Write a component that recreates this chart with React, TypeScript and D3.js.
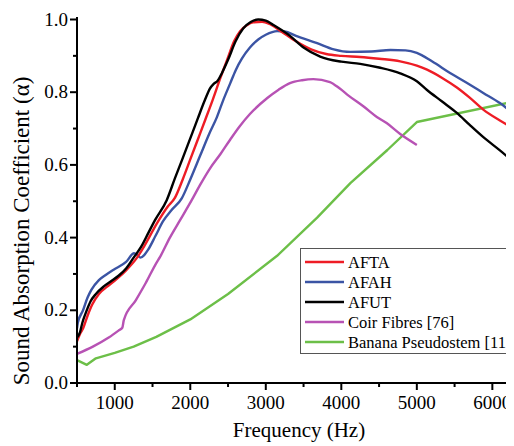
import React, { useEffect, useState } from "react";
import * as d3 from "d3";

type P = [number, number];

const xTicksMajor = [1000, 2000, 3000, 4000, 5000, 6000];
const xTicksMinor = [500, 1500, 2500, 3500, 4500, 5500];
const yTicksMajor = [0, 0.2, 0.4, 0.6, 0.8, 1.0];
const yTicksMinor = [0.1, 0.3, 0.5, 0.7, 0.9];

const afta: P[] = [
  [500, 0.115], [540, 0.135], [580, 0.15], [640, 0.185], [700, 0.215], [790, 0.245],
  [900, 0.265], [1020, 0.285], [1150, 0.31], [1295, 0.345], [1400, 0.38], [1560, 0.44],
  [1700, 0.485], [1798, 0.51], [1900, 0.56], [2000, 0.615], [2100, 0.67], [2200, 0.725],
  [2297, 0.779], [2400, 0.84], [2490, 0.89], [2580, 0.94], [2660, 0.968], [2750, 0.984],
  [2830, 0.992], [2950, 0.994], [3050, 0.988], [3200, 0.968], [3400, 0.94], [3600, 0.918],
  [3800, 0.905], [4000, 0.9], [4250, 0.897], [4500, 0.892], [4780, 0.885], [5000, 0.873],
  [5135, 0.862], [5330, 0.84], [5530, 0.813], [5700, 0.785], [5880, 0.752], [6100, 0.722],
  [6300, 0.698],
];

const afah: P[] = [
  [500, 0.15], [510, 0.165], [580, 0.2], [640, 0.235], [690, 0.256], [790, 0.283],
  [880, 0.297], [980, 0.311], [1150, 0.333], [1255, 0.357], [1300, 0.352], [1340, 0.345],
  [1390, 0.352], [1440, 0.366], [1540, 0.405], [1640, 0.445], [1750, 0.475], [1887, 0.508],
  [2000, 0.56], [2130, 0.625], [2250, 0.685], [2350, 0.73], [2438, 0.779], [2530, 0.825],
  [2600, 0.86], [2685, 0.893], [2790, 0.923], [2900, 0.945], [3000, 0.958], [3150, 0.968],
  [3250, 0.967], [3400, 0.955], [3680, 0.935], [3900, 0.918], [4120, 0.911], [4400, 0.912],
  [4650, 0.916], [4850, 0.915], [5000, 0.908], [5200, 0.885], [5440, 0.853], [5660, 0.826],
  [5880, 0.798], [6100, 0.77], [6300, 0.738],
];

const afut: P[] = [
  [500, 0.125], [540, 0.14], [570, 0.165], [620, 0.195], [680, 0.225], [750, 0.245],
  [850, 0.265], [950, 0.28], [1050, 0.295], [1150, 0.315], [1250, 0.345], [1350, 0.375],
  [1450, 0.415], [1533, 0.448], [1688, 0.503], [1800, 0.565], [1890, 0.613], [2000, 0.673],
  [2100, 0.728], [2195, 0.779], [2260, 0.81], [2310, 0.823], [2360, 0.831], [2420, 0.853],
  [2500, 0.889], [2600, 0.94], [2700, 0.975], [2800, 0.993], [2900, 1.0], [3000, 0.997],
  [3100, 0.985], [3320, 0.955], [3500, 0.923], [3720, 0.898], [4000, 0.884], [4250, 0.878],
  [4500, 0.868], [4780, 0.852], [5000, 0.83], [5135, 0.806], [5330, 0.775], [5530, 0.743],
  [5700, 0.71], [5877, 0.677], [6100, 0.64], [6300, 0.605],
];

const coir: P[] = [
  [500, 0.08], [710, 0.1], [920, 0.125], [1055, 0.145], [1100, 0.152], [1120, 0.173],
  [1280, 0.228], [1410, 0.275], [1550, 0.33], [1600, 0.347], [1730, 0.4], [1865, 0.448],
  [2019, 0.503], [2130, 0.545], [2260, 0.59], [2400, 0.63], [2530, 0.67], [2650, 0.705],
  [2790, 0.74], [3020, 0.784], [3170, 0.807], [3320, 0.825], [3480, 0.833], [3630, 0.836],
  [3850, 0.828], [3980, 0.81], [4100, 0.79], [4300, 0.76], [4470, 0.732], [4600, 0.715],
  [4780, 0.685], [5000, 0.655],
];

const banana: P[] = [
  [500, 0.063], [630, 0.05], [750, 0.068], [1000, 0.083], [1250, 0.1], [1550, 0.127],
  [2000, 0.175], [2500, 0.245], [3150, 0.35], [3680, 0.455], [4120, 0.55], [4610, 0.641],
  [5000, 0.718], [6300, 0.775],
];

const seriesNames = ["AFTA", "AFAH", "AFUT", "Coir Fibres [76]", "Banana Pseudostem [11]"];
const seriesColors = ["#ee1c25", "#3b54a4", "#000000", "#b752b4", "#6cbf48"];
const seriesData = [afta, afah, afut, coir, banana];

const W = 514;
const H = 446;

export default function App() {
  const [, setTick] = useState(0);
  useEffect(() => {
    const f = (document as any).fonts;
    if (f && f.load) {
      Promise.all([f.load('20px "Liberation Serif"'), f.ready]).then(() => setTick((t) => t + 1));
    }
  }, []);

  const x = d3.scaleLinear().domain([500, 6300]).range([77, 515]);
  const y = d3.scaleLinear().domain([0, 1]).range([383, 19.5]);

  const smooth = d3
    .line<P>()
    .x((d) => x(d[0]))
    .y((d) => y(d[1]))
    .curve(d3.curveMonotoneX);
  const straight = d3
    .line<P>()
    .x((d) => x(d[0]))
    .y((d) => y(d[1]));

  const drawOrder = [4, 3, 1, 0, 2];

  const legendX = 300;
  const legendY = 248;
  const legendRow = 20;

  const tx = (
    key: string,
    props: Record<string, any>,
    size: number,
    content: string
  ) => (
    <text key={key} {...props} fontSize={size} style={{ fontFamily: `"Liberation Serif"` }}>
      {content}
    </text>
  );

  return (
    <svg width={W} height={H} style={{ display: "block", marginLeft: -8, marginTop: -8 }}>
      <defs>
        <clipPath id="plotClip">
          <rect x={77} y={0} width={W - 77} height={384} />
        </clipPath>
      </defs>

      <g clipPath="url(#plotClip)">
        {drawOrder.map((i) => (
          <path
            key={seriesNames[i]}
            d={(i === 4 ? straight : smooth)(seriesData[i]) || ""}
            fill="none"
            stroke={seriesColors[i]}
            strokeWidth={2.4}
            strokeLinejoin="round"
          />
        ))}
      </g>

      <line x1={77} x2={77} y1={17} y2={384} stroke="#000" strokeWidth={2} />
      <line x1={76} x2={W} y1={383} y2={383} stroke="#000" strokeWidth={2} />

      {yTicksMajor.map((t) => (
        <line key={"ym" + t} x1={70} x2={77} y1={y(t)} y2={y(t)} stroke="#000" strokeWidth={2} />
      ))}
      {yTicksMajor.map((t) =>
        tx("yl" + t, { x: 68, y: y(t) + 6, textAnchor: "end" }, 19, t.toFixed(1))
      )}
      {yTicksMinor.map((t) => (
        <line key={"yn" + t} x1={73} x2={77} y1={y(t)} y2={y(t)} stroke="#000" strokeWidth={2} />
      ))}
      {xTicksMajor.map((t) => (
        <line key={"xm" + t} x1={x(t)} x2={x(t)} y1={383} y2={390} stroke="#000" strokeWidth={2} />
      ))}
      {xTicksMajor.map((t) =>
        tx("xl" + t, { x: x(t), y: 409, textAnchor: "middle" }, 19, String(t))
      )}
      {xTicksMinor.map((t) => (
        <line key={"xn" + t} x1={x(t)} x2={x(t)} y1={383} y2={387} stroke="#000" strokeWidth={2} />
      ))}

      {tx("xt", { x: 299, y: 437, textAnchor: "middle" }, 21, "Frequency (Hz)")}
      {tx(
        "yt",
        { transform: "translate(29, 231) rotate(-90)", textAnchor: "middle" },
        23,
        "Sound Absorption Coefficient (α)"
      )}

      <rect
        x={legendX + 0.5}
        y={legendY + 0.5}
        width={212}
        height={105}
        fill="#fff"
        stroke="#555"
        strokeWidth={1}
      />
      {seriesNames.map((name, i) => (
        <line
          key={"ll" + name}
          x1={305}
          x2={344}
          y1={legendY + 14 + i * legendRow}
          y2={legendY + 14 + i * legendRow}
          stroke={seriesColors[i]}
          strokeWidth={2.4}
        />
      ))}
      {seriesNames.map((name, i) =>
        tx("lt" + name, { x: 348, y: legendY + 20 + i * legendRow }, 16.5, name)
      )}
    </svg>
  );
}
